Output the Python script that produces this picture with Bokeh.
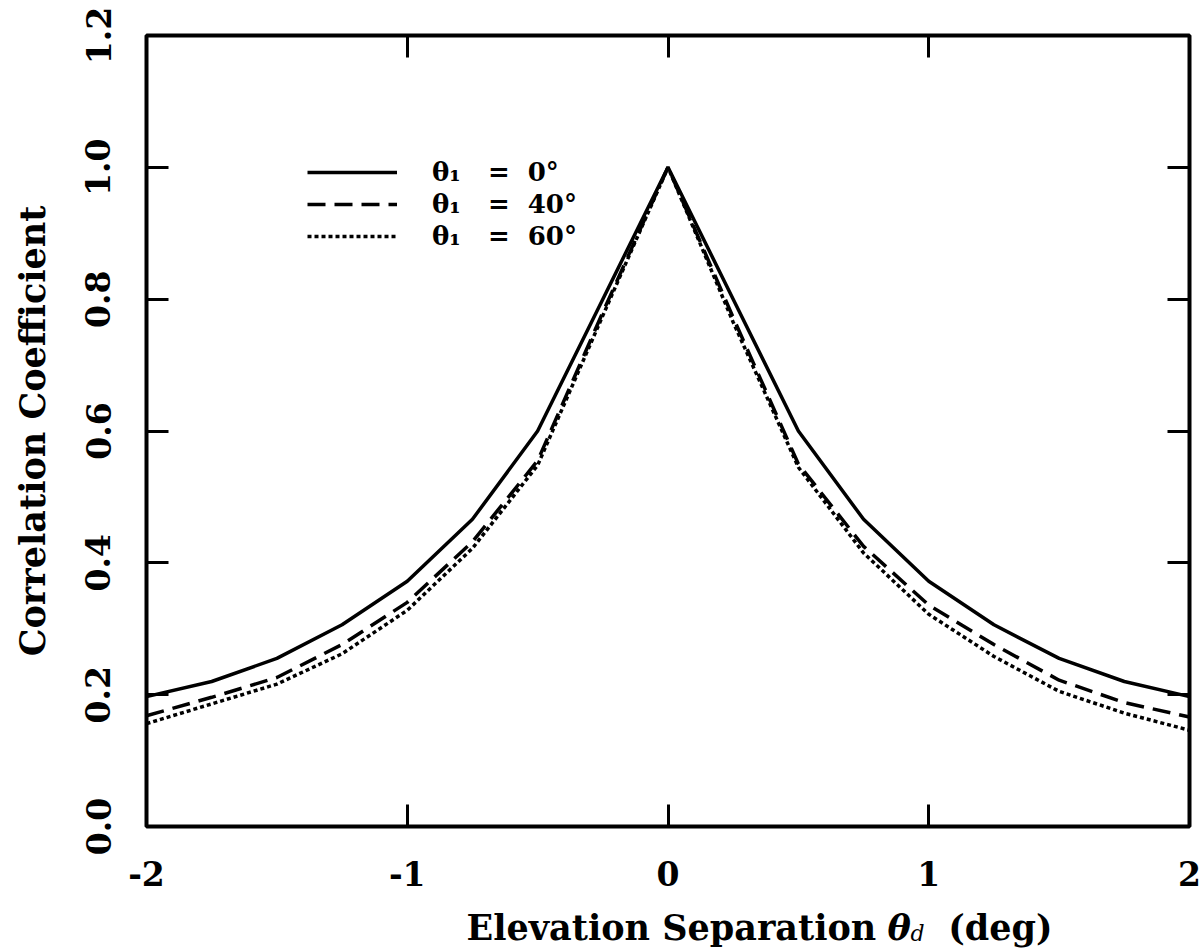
from bokeh.plotting import figure
from bokeh.layouts import column
from bokeh.models import (Range1d, LinearAxis, FixedTicker, Label, Legend, LegendItem,
                          CustomJSTickFormatter)
from bokeh.embed import file_html
from bokeh.resources import INLINE

# ---------------- data ----------------
sep_deg = [-2.0, -1.75, -1.5, -1.25, -1.0, -0.75, -0.5, -0.25, 0.0,
           0.25, 0.5, 0.75, 1.0, 1.25, 1.5, 1.75, 2.0]
rho_theta0 = [0.197, 0.220, 0.255, 0.306, 0.372, 0.466, 0.600, 0.800, 1.000,
              0.800, 0.600, 0.466, 0.372, 0.306, 0.255, 0.220, 0.197]
rho_theta40 = [0.168, 0.196, 0.226, 0.276, 0.340, 0.432, 0.555, 0.780, 1.000,
               0.772, 0.550, 0.425, 0.336, 0.276, 0.222, 0.188, 0.166]
rho_theta60 = [0.156, 0.186, 0.216, 0.262, 0.328, 0.422, 0.548, 0.775, 1.000,
               0.765, 0.545, 0.415, 0.322, 0.258, 0.205, 0.172, 0.146]
series_labels = ["θ₁   =  0°", "θ₁   =  40°", "θ₁   =  60°"]
x_ticks = [-2, -1, 0, 1, 2]
x_tick_labels = ["-2", "-1", "0", "1", "2"]
y_ticks = [0.0, 0.2, 0.4, 0.6, 0.8, 1.0, 1.2]
y_tick_labels = ["0.0", "0.2", "0.4", "0.6", "0.8", "1.0", "1.2"]
x_title_parts = ["Elevation Separation", "θ", "d", "(deg)"]
y_title = "Correlation Coefficient"

FONT = "DejaVu Serif"
TITLE_SIZE = "35px"
TICK_SIZE = "33px"

p = figure(width=1204, height=900, output_backend="svg", toolbar_location=None,
           x_range=Range1d(-2, 2), y_range=Range1d(0, 1.2),
           min_border_left=146, min_border_right=15, min_border_top=35,
           min_border_bottom=74, x_axis_location=None, y_axis_location=None)
p.frame_align = False
p.grid.visible = False
p.outline_line_color = "black"
p.outline_line_width = 4
p.background_fill_color = "white"
p.border_fill_color = "white"


def style_axis(ax, ticks, labels=None):
    ax.ticker = FixedTicker(ticks=ticks)
    ax.axis_line_color = None
    ax.major_tick_in = 22
    ax.major_tick_out = 0
    ax.major_tick_line_width = 3
    ax.major_tick_line_color = "black"
    ax.minor_tick_line_color = None
    if labels is None:
        ax.formatter = CustomJSTickFormatter(code="return ''")
    else:
        ax.major_label_overrides = {t: l for t, l in zip(ticks, labels)}
        ax.major_label_text_font = FONT
        ax.major_label_text_font_style = "bold"
        ax.major_label_text_font_size = TICK_SIZE
        ax.major_label_text_color = "black"


xb = LinearAxis()
style_axis(xb, x_ticks, x_tick_labels)
xb.major_label_standoff = 34
p.add_layout(xb, "below")

xt = LinearAxis()
style_axis(xt, x_ticks)
p.add_layout(xt, "above")

yl = LinearAxis()
style_axis(yl, y_ticks, y_tick_labels)
yl.major_label_orientation = "vertical"
yl.major_label_standoff = 36
yl.axis_label = y_title
yl.axis_label_text_font = FONT
yl.axis_label_text_font_style = "bold"
yl.axis_label_text_font_size = TITLE_SIZE
yl.axis_label_text_color = "black"
yl.axis_label_standoff = 30
p.add_layout(yl, "left")

yr = LinearAxis()
style_axis(yr, y_ticks)
p.add_layout(yr, "right")

# ---------------- curves ----------------
r0 = p.line(sep_deg, rho_theta0, line_color="black", line_width=3.5)
r40 = p.line(sep_deg, rho_theta40, line_color="black", line_width=3.5, line_dash="18 9")
r60 = p.line(sep_deg, rho_theta60, line_color="black", line_width=3.5, line_dash="4 3")

legend = Legend(items=[LegendItem(label=series_labels[0], renderers=[r0]),
                       LegendItem(label=series_labels[1], renderers=[r40]),
                       LegendItem(label=series_labels[2], renderers=[r60])],
                location=(161, 575), orientation="vertical",
                background_fill_alpha=0, border_line_color=None,
                padding=0, margin=0, spacing=2,
                glyph_width=90, glyph_height=30, label_height=30,
                label_standoff=35,
                label_text_font=FONT, label_text_font_style="bold",
                label_text_font_size="26px", label_text_color="black")
p.add_layout(legend, "center")

# ---------------- x title strip (with subscript) ----------------
t = figure(width=1204, height=52, output_backend="svg", toolbar_location=None,
           x_range=Range1d(0, 1204), y_range=Range1d(0, 52),
           min_border=0, min_border_left=0, min_border_right=0,
           min_border_top=0, min_border_bottom=0,
           x_axis_location=None, y_axis_location=None)
t.frame_align = False
t.grid.visible = False
t.outline_line_color = None
t.background_fill_color = "white"
t.border_fill_color = "white"

title_specs = [
    (x_title_parts[0], 466, 25, "bold", TITLE_SIZE, "left"),
    (x_title_parts[1], 887, 25, "bold italic", TITLE_SIZE, "left"),
    (x_title_parts[2], 910, 19, "italic", "22px", "left"),
    (x_title_parts[3], 1052, 25, "bold", TITLE_SIZE, "right"),
]
for txt, px, py, style, size, align in title_specs:
    t.add_layout(Label(x=px, y=py, text=txt, text_font=FONT,
                       text_font_style=style, text_font_size=size,
                       text_color="black", text_baseline="alphabetic",
                       text_align=align))

layout = column(p, t, spacing=0)
open("out.html", "w").write(file_html(layout, INLINE))
